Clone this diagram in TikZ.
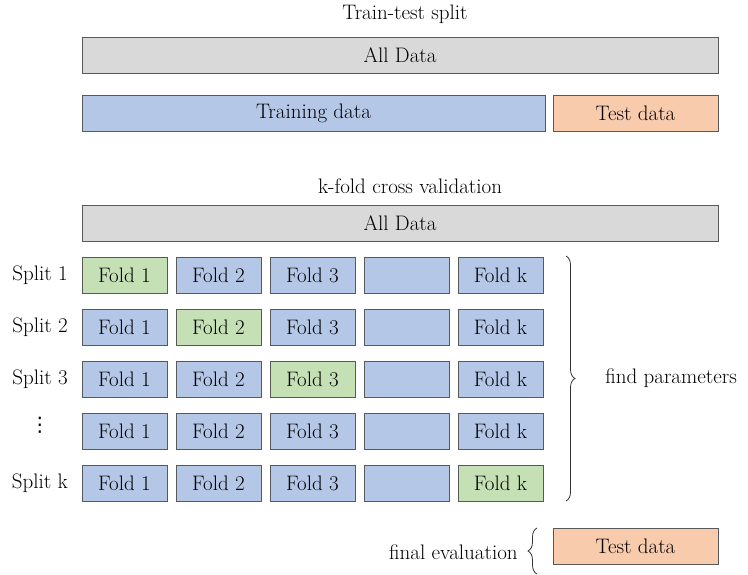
\documentclass[tikz,border=0pt]{standalone}
\usepackage{fontspec}
\newfontfamily\symfont{DejaVu Sans}
\usetikzlibrary{decorations.pathreplacing}
\definecolor{alldata}{HTML}{D9D9D9}
\definecolor{trainblue}{HTML}{B4C7E7}
\definecolor{testorange}{HTML}{F8CBAD}
\definecolor{foldgreen}{HTML}{C5E0B4}
\definecolor{edgegray}{HTML}{595959}
\tikzset{
  txt/.style={font=\fontsize{21}{24}\selectfont, inner sep=0pt},
  bar/.style={txt, rectangle, draw=edgegray, line width=0.9pt, minimum height=36pt},
  fold/.style={bar, fill=trainblue, minimum width=85pt},
  valfold/.style={bar, fill=foldgreen, minimum width=85pt},
  brc/.style={decorate, decoration={brace, amplitude=9pt}, draw=black!80, line width=0.8pt}
}
\begin{document}
\begin{tikzpicture}[x=1pt,y=-1pt]
    \useasboundingbox (0,0) rectangle (748,575);
    %\draw [very thin, green] (0,0) grid [step=50] (748,575);

    % train-test split
    \node at (405,14) [txt] (tts) {Train-test split};
    \node at (400,55) [bar,fill=alldata,minimum width=636pt] (all1) {All Data};
    \node at (313.5,113.5) [bar,fill=trainblue,minimum width=463pt] (train) {Training data};
    \node at (635.5,113.5) [bar,fill=testorange,minimum width=165pt] (test1) {Test data};

    % k-fold cross validation
    \node at (410,186) [txt] (kcv) {k-fold cross validation};
    \node at (400,223) [bar,fill=alldata,minimum width=636pt] (all2) {All Data};

    \foreach \r/\v in {1/1, 2/2, 3/3, 4/0, 5/5} {
        \pgfmathsetmacro{\ypos}{275+52*(\r-1)}
        \foreach \c/\name in {1/Fold 1, 2/Fold 2, 3/Fold 3, 4/, 5/Fold k} {
            \pgfmathsetmacro{\xpos}{124.5+94*(\c-1)}
            \ifnum\c=\v
                \node at (\xpos,\ypos) [valfold] (r\r c\c) {\name};
            \else
                \node at (\xpos,\ypos) [fold] (r\r c\c) {\name};
            \fi
        }
    }
    \foreach \r/\lab in {1/Split 1, 2/Split 2, 3/Split 3, 5/Split k}
        \node at (68,{275+52*(\r-1)}) [txt,anchor=east] (s\r) {\lab};
    \node at (40,425) [txt,font=\symfont\fontsize{20}{24}\selectfont] (s4) {⋮};

    \coordinate (bt) at (566,256);
    \coordinate (bb) at (566,501);
    \draw [brc] (bt) -- (bb) node [midway,txt,anchor=west,xshift=39pt] (fp) {find parameters};

    % final evaluation
    \node at (635.5,546.5) [bar,fill=testorange,minimum width=165pt] (test2) {Test data};
    \coordinate (et) at (537,528);
    \coordinate (eb) at (537,574);
    \draw [brc] (eb) -- (et) node [midway,txt,anchor=east,xshift=-19pt,yshift=-1pt] (fe) {final evaluation};
\end{tikzpicture}
\end{document}
